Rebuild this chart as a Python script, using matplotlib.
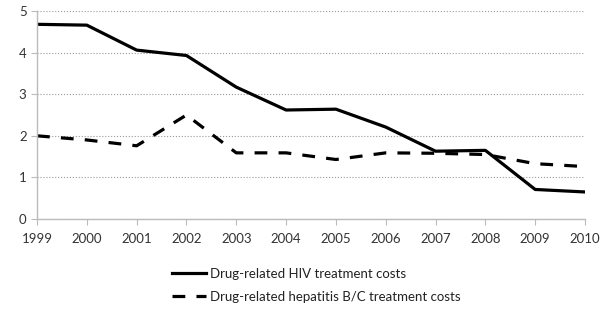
import matplotlib
matplotlib.use("Agg")
import matplotlib.pyplot as plt

years = [1999, 2000, 2001, 2002, 2003, 2004, 2005, 2006, 2007, 2008, 2009, 2010]
hiv = [4.68, 4.66, 4.06, 3.93, 3.17, 2.62, 2.64, 2.21, 1.63, 1.65, 0.71, 0.65]
hep = [2.0, 1.9, 1.76, 2.5, 1.59, 1.59, 1.43, 1.59, 1.58, 1.55, 1.33, 1.26]

plt.rcParams["font.family"] = ["Lato", "DejaVu Sans"]

fig = plt.figure(figsize=(6.1, 3.09), dpi=100)
ax = fig.add_axes([37 / 610, 1 - 219 / 309, 548 / 610, 208 / 309])

l1, = ax.plot(years, hiv, color="black", lw=2.3, label="Drug-related HIV treatment costs")
l2, = ax.plot(years, hep, color="black", lw=2.3, ls=(0, (4, 3.5)),
              label="Drug-related hepatitis B/C treatment costs")

ax.set_xlim(1999, 2010)
ax.set_ylim(0, 5)
ax.set_xticks(years)
ax.set_yticks(range(0, 6))
ax.yaxis.grid(True, color="#999999", ls=":", lw=0.8)
ax.set_axisbelow(True)
for s in ["top", "right"]:
    ax.spines[s].set_visible(False)
for s in ["left", "bottom"]:
    ax.spines[s].set_color("#bbbbbb")
    ax.spines[s].set_linewidth(1)
ax.tick_params(axis="both", colors="#bbbbbb", labelcolor="#333333", labelsize=9.5, length=4)
ax.tick_params(axis="x", pad=6)

fig.legend(handles=[l1, l2], loc="upper left", bbox_to_anchor=(160 / 610, 1 - 256 / 309),
           frameon=False, fontsize=9.5, handlelength=2.6, handletextpad=0.3,
           labelspacing=0.85, labelcolor="#222222")

fig.savefig("out.png", dpi=100)
